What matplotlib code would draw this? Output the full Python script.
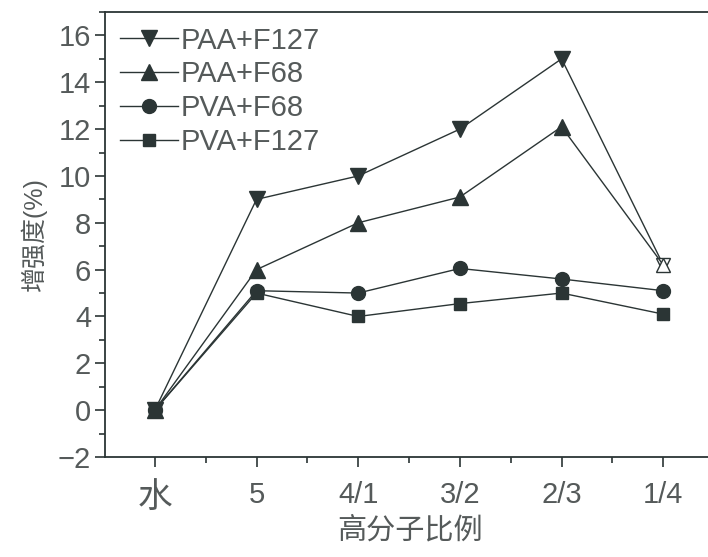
import matplotlib.pyplot as plt
from matplotlib.ticker import MultipleLocator
import numpy as np

plt.rcParams['font.family'] = ['Liberation Sans', 'Noto Sans CJK SC', 'DejaVu Sans']

categories = ['水', '5', '4/1', '3/2', '2/3', '1/4']
paa_f127 = [0.0, 9.0, 10.0, 12.0, 15.0, 6.2]
paa_f68 = [0.0, 6.0, 8.0, 9.1, 12.1, 6.2]
pva_f68 = [0.0, 5.1, 5.0, 6.05, 5.6, 5.1]
pva_f127 = [0.0, 5.0, 4.0, 4.55, 5.0, 4.1]

series = [
    ('PAA+F127', paa_f127, 'v', 12),
    ('PAA+F68', paa_f68, '^', 12),
    ('PVA+F68', pva_f68, 'o', 10),
    ('PVA+F127', pva_f127, 's', 9),
]

col = '#2b3535'
txt = '#555a5a'

fig = plt.figure(figsize=(7.08, 5.57), dpi=100)
ax = fig.add_axes([105 / 708, 1 - 457 / 557, (708 - 105) / 708 * 6.0 / 5.93, (457 - 12) / 557])

x = np.arange(len(categories))
for name, vals, m, ms in series:
    hollow_last = name.startswith('PAA')
    ax.plot(x, vals, color=col, lw=1.0, marker=m, ms=ms,
            markevery=list(range(5)) if hollow_last else None,
            mfc=col, mec=col, label=name)
    if hollow_last:
        ax.plot(x[-1:], vals[-1:], ls='none', marker=m, ms=ms - 2,
                mfc='white', mec=col, mew=1.0)

ax.set_xlim(-0.49, 5.51)
ax.set_ylim(-2, 17)
ax.set_xticks(x)
ax.set_xticklabels(categories)
ax.xaxis.set_minor_locator(MultipleLocator(0.5))
ax.yaxis.set_minor_locator(MultipleLocator(1))
ax.set_yticks(np.arange(-2, 17, 2))

for s in ax.spines.values():
    s.set_color(col)
    s.set_linewidth(1.3)

ax.tick_params(which='major', direction='out', length=7, width=1.2, color=col,
               labelcolor=txt, labelsize=21)
ax.tick_params(which='minor', direction='out', length=4, width=1.2, color=col)
ax.tick_params(axis='x', pad=10)
ax.tick_params(axis='y', pad=3)
for lab in ax.get_xticklabels():
    if lab.get_text() == '水':
        lab.set_fontsize(25)

ax.set_xlabel('高分子比例', fontsize=21, color=txt, labelpad=2)
ax.set_ylabel('增强度(%)', fontsize=18, color=txt, labelpad=8)

ax.legend(loc='upper left', bbox_to_anchor=(0.0, 1.0), frameon=False, fontsize=21,
          labelcolor=txt, handlelength=2.0, handletextpad=0.1, labelspacing=0.2,
          borderaxespad=0.2, borderpad=0.3)

fig.savefig('out.png', dpi=100)
